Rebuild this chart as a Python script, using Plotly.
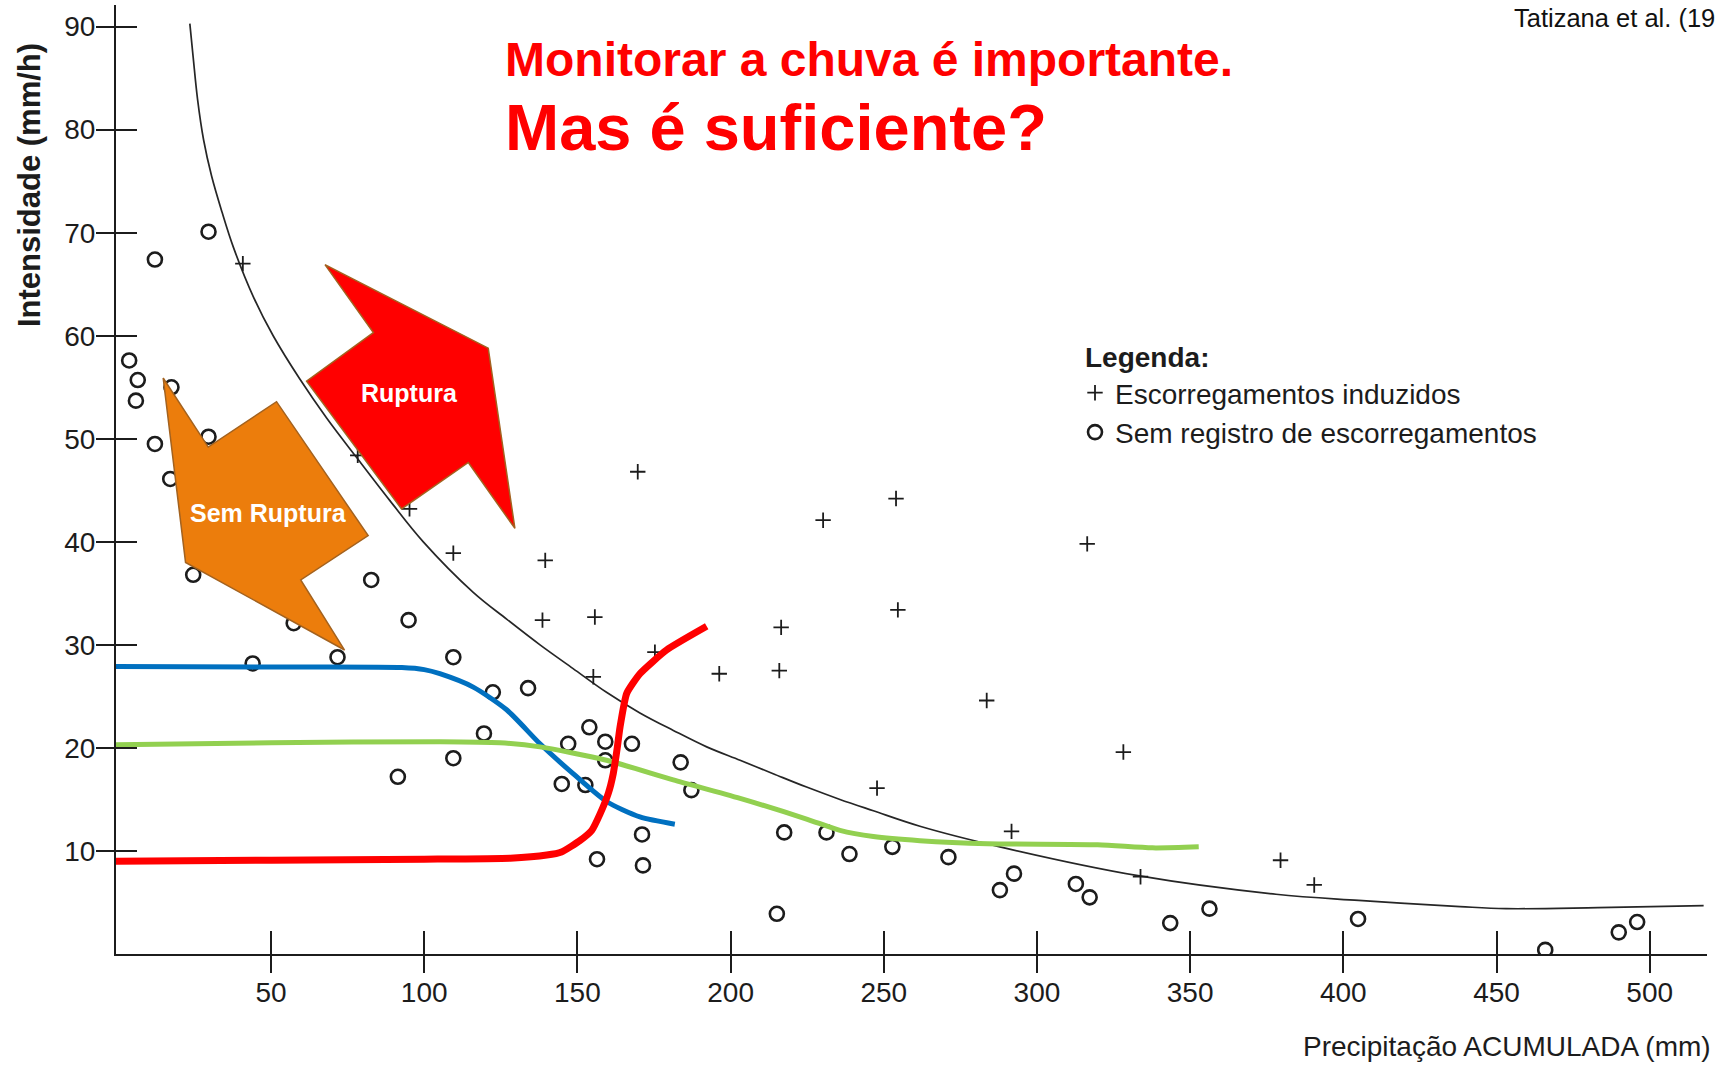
import plotly.graph_objects as go

# ---------------- data ----------------
sem_registro_x = [12.1, 29.6, 3.7, 6.5, 5.9, 17.5, 12.1, 29.6, 17.1, 24.6, 44.0, 57.4, 71.7, 82.7,
                  94.9, 109.5, 122.4, 133.9, 119.5, 109.5, 91.4, 147.0, 153.9, 159.1, 159.1, 167.8,
                  144.9, 152.6, 183.7, 187.2, 171.1, 156.4, 171.4, 217.5, 215.1, 231.3, 238.8, 252.8,
                  271.1, 287.9, 292.5, 312.7, 317.2, 343.5, 356.3, 404.8, 465.9, 489.9, 495.9]
sem_registro_y = [67.4, 70.1, 57.6, 55.7, 53.7, 55.0, 49.5, 50.2, 46.1, 36.8, 28.2, 32.1, 28.8, 36.3,
                  32.4, 28.8, 25.4, 25.8, 21.4, 19.0, 17.2, 20.4, 22.0, 20.6, 18.8, 20.4,
                  16.5, 16.4, 18.6, 15.9, 11.6, 9.2, 8.6, 11.8, 3.9, 11.8, 9.7, 10.4,
                  9.4, 6.2, 7.8, 6.8, 5.5, 3.0, 4.4, 3.4, 0.4, 2.1, 3.1]

induzidos_x = [40.8, 78.3, 95.2, 109.5, 139.5, 138.6, 155.7, 155.2, 169.7, 175.3, 196.3, 216.5,
               215.9, 230.2, 254.0, 254.6, 247.8, 283.6, 291.7, 316.4, 328.2, 333.8, 379.5, 390.5]
induzidos_y = [67.0, 48.4, 43.2, 38.9, 38.2, 32.4, 32.7, 26.9, 46.8, 29.3, 27.2, 31.7,
               27.5, 42.1, 44.2, 33.4, 16.1, 24.6, 11.9, 39.8, 19.6, 7.5, 9.1, 6.7]

limiar_x = [23.5, 24.6, 26.0, 28.0, 30.6, 34.0, 37.7, 44.2, 50.7, 59.4, 68.2, 77.9, 88.8, 99.7,
            116.0, 126.9, 137.8, 148.6, 159.5, 170.4, 181.3, 192.2, 203.1, 213.9, 224.8,
            235.7, 246.6, 261.8, 287.9, 333.0, 378.0, 405.0, 438.1, 453.1, 483.1, 517.6]
limiar_y = [90.3, 87.0, 83.0, 79.0, 75.5, 72.0, 68.6, 63.8, 60.0, 55.8, 52.0, 48.2, 44.0, 40.0,
            35.1, 32.5, 30.0, 27.7, 25.4, 23.4, 21.7, 20.1, 18.8, 17.5, 16.2,
            15.0, 13.9, 12.4, 10.4, 7.6, 5.8, 5.2, 4.6, 4.4, 4.5, 4.7]

azul_x = [-0.6, 50, 92.7, 100.0, 105.1, 116.0, 126.9, 137.8, 148.6, 159.5, 170.4, 181.8]
azul_y = [27.9, 27.85, 27.8, 27.6, 27.2, 25.9, 23.7, 20.4, 17.5, 14.8, 13.3, 12.6]

verde_x = [-0.6, 50, 105.1, 124.7, 137.8, 159.5, 181.3, 203.1, 224.8, 235.7, 246.6, 261.8,
           283.9, 319.8, 337.7, 352.8]
verde_y = [20.3, 20.5, 20.6, 20.5, 20.1, 18.8, 16.9, 15.1, 13.1, 12.0, 11.4, 11.0,
           10.7, 10.6, 10.3, 10.4]

vermelho_x = [-0.6, 50, 100, 128.1, 140.0, 144.8, 150.8, 154.7, 157.4, 160.1, 161.7, 163.0,
              163.9, 166.1, 170.4, 179.1, 192.2]
vermelho_y = [9.0, 9.1, 9.2, 9.3, 9.6, 9.9, 11.0, 12.0, 13.6, 15.6, 17.5, 20.0,
              22.0, 25.3, 27.2, 29.5, 31.8]

seta_ruptura_x = [67.6, 120.9, 129.6, 114.4, 92.6, 61.6, 83.4, 67.6]
seta_ruptura_y = [66.9, 58.8, 41.3, 47.7, 43.2, 55.6, 60.3, 66.9]
seta_sem_x = [14.8, 29.5, 51.8, 81.7, 59.7, 74.0, 22.1, 14.8]
seta_sem_y = [55.9, 49.2, 53.6, 40.6, 36.3, 29.5, 38.0, 55.9]

x_ticks = [50, 100, 150, 200, 250, 300, 350, 400, 450, 500]
y_ticks = [10, 20, 30, 40, 50, 60, 70, 80, 90]

# ---------------- figure ----------------
W, H = 1721, 1066
L, R, T, B = 116, 14, 5, 112
INK = "#1c1c1c"
FONT = "Liberation Sans, Arial, sans-serif"

fig = go.Figure()

fig.add_trace(go.Scatter(x=limiar_x, y=limiar_y, mode="lines", showlegend=False,
                         line=dict(color="#262626", width=1.7, shape="spline", smoothing=1.0),
                         hoverinfo="skip"))

fig.add_trace(go.Scatter(x=induzidos_x, y=induzidos_y, mode="markers",
                         name="Escorregamentos induzidos",
                         marker=dict(symbol="cross-thin", size=11, color=INK,
                                     line=dict(color=INK, width=1.8))))
fig.add_trace(go.Scatter(x=sem_registro_x, y=sem_registro_y, mode="markers",
                         name="Sem registro de escorregamentos",
                         marker=dict(symbol="circle-open", size=14, color=INK,
                                     line=dict(color=INK, width=2.6))))

fig.add_trace(go.Scatter(x=seta_ruptura_x, y=seta_ruptura_y, mode="lines", fill="toself",
                         fillcolor="#FF0000", line=dict(color="#A3621F", width=1.5),
                         showlegend=False, hoverinfo="skip"))
fig.add_trace(go.Scatter(x=seta_sem_x, y=seta_sem_y, mode="lines", fill="toself",
                         fillcolor="#EC7D0C", line=dict(color="#A3621F", width=1.5),
                         showlegend=False, hoverinfo="skip"))

fig.add_trace(go.Scatter(x=azul_x, y=azul_y, mode="lines", showlegend=False,
                         line=dict(color="#0070C0", width=5, shape="spline", smoothing=0.7),
                         hoverinfo="skip"))
fig.add_trace(go.Scatter(x=verde_x, y=verde_y, mode="lines", showlegend=False,
                         line=dict(color="#92D050", width=5, shape="spline", smoothing=0.7),
                         hoverinfo="skip"))
fig.add_trace(go.Scatter(x=vermelho_x, y=vermelho_y, mode="lines", showlegend=False,
                         line=dict(color="#FF0000", width=7, shape="spline", smoothing=0.5),
                         hoverinfo="skip"))

# empty trace to hold the overlaid (outside-tick) axes
fig.add_trace(go.Scatter(x=[], y=[], xaxis="x2", yaxis="y2", showlegend=False))

XR = [-0.6, 518.7]
YR = [0, 92.1]


def px_x(p):
    return (p - L) / (W - L - R)


def px_y(p):
    return (H - B - p) / (H - T - B)


fig.update_layout(
    width=W, height=H,
    margin=dict(l=L, r=R, t=T, b=B),
    paper_bgcolor="white", plot_bgcolor="white",
    font=dict(family=FONT, color=INK),
    xaxis=dict(range=XR, tickvals=x_ticks, ticks="inside", ticklen=23, tickwidth=2,
               tickcolor=INK, showline=True, linecolor=INK, linewidth=2, showgrid=False,
               zeroline=False, tickfont=dict(size=28, color=INK), ticklabelstandoff=12),
    yaxis=dict(range=YR, tickvals=y_ticks, ticks="inside", ticklen=21, tickwidth=2,
               tickcolor=INK, showline=True, linecolor=INK, linewidth=2, showgrid=False,
               zeroline=False, tickfont=dict(size=28, color=INK), ticklabelstandoff=13),
    xaxis2=dict(range=XR, tickvals=x_ticks, ticks="outside", ticklen=18, tickwidth=2,
                tickcolor=INK, overlaying="x", side="bottom", anchor="y2",
                showticklabels=False, showline=False, showgrid=False, zeroline=False),
    yaxis2=dict(range=YR, tickvals=y_ticks, ticks="outside", ticklen=19, tickwidth=2,
                tickcolor=INK, overlaying="y", side="left", anchor="x2",
                showticklabels=False, showline=False, showgrid=False, zeroline=False),
    legend=dict(x=px_x(1075), y=px_y(368), xanchor="left", yanchor="top",
                bgcolor="rgba(0,0,0,0)", font=dict(size=28, color=INK, family=FONT),
                itemsizing="trace", tracegroupgap=0),
    showlegend=True,
)

annotations = [
    dict(text="<b>Monitorar a chuva é importante.</b>", x=px_x(503), y=px_y(59.6),
         xref="paper", yref="paper", xanchor="left", yanchor="middle", showarrow=False,
         font=dict(size=48, color="#FF0000", family=FONT)),
    dict(text="<b>Mas é suficiente?</b>", x=px_x(503), y=px_y(127.5),
         xref="paper", yref="paper", xanchor="left", yanchor="middle", showarrow=False,
         font=dict(size=65, color="#FF0000", family=FONT)),
    dict(text="Tatizana et al. (19", x=px_x(1512), y=px_y(18.3),
         xref="paper", yref="paper", xanchor="left", yanchor="middle", showarrow=False,
         font=dict(size=25.5, color="#111111", family=FONT)),
    dict(text="<b>Legenda:</b>", x=px_x(1083), y=px_y(357.8),
         xref="paper", yref="paper", xanchor="left", yanchor="middle", showarrow=False,
         font=dict(size=28, color=INK, family=FONT)),
    dict(text="<b>Intensidade (mm/h)</b>", x=px_x(29.6), y=px_y(185.5),
         xref="paper", yref="paper", xanchor="center", yanchor="middle", showarrow=False,
         textangle=-90, font=dict(size=31, color=INK, family=FONT)),
    dict(text="Precipitação ACUMULADA (mm)", x=px_x(1713), y=px_y(1046.5),
         xref="paper", yref="paper", xanchor="right", yanchor="middle", showarrow=False,
         font=dict(size=28, color=INK, family=FONT)),
    dict(text="<b>Ruptura</b>", x=95.3, y=54.4, xref="x", yref="y", showarrow=False,
         font=dict(size=25, color="white", family=FONT)),
    dict(text="<b>Sem Ruptura</b>", x=49.1, y=42.8, xref="x", yref="y", showarrow=False,
         font=dict(size=25, color="white", family=FONT)),
]
fig.update_layout(annotations=annotations)

fig.write_html(
    "out.html",
    config={"displayModeBar": False},
    post_script="document.body.style.margin='0px';document.body.style.padding='0px';"
                "document.body.style.overflow='hidden';",
)
